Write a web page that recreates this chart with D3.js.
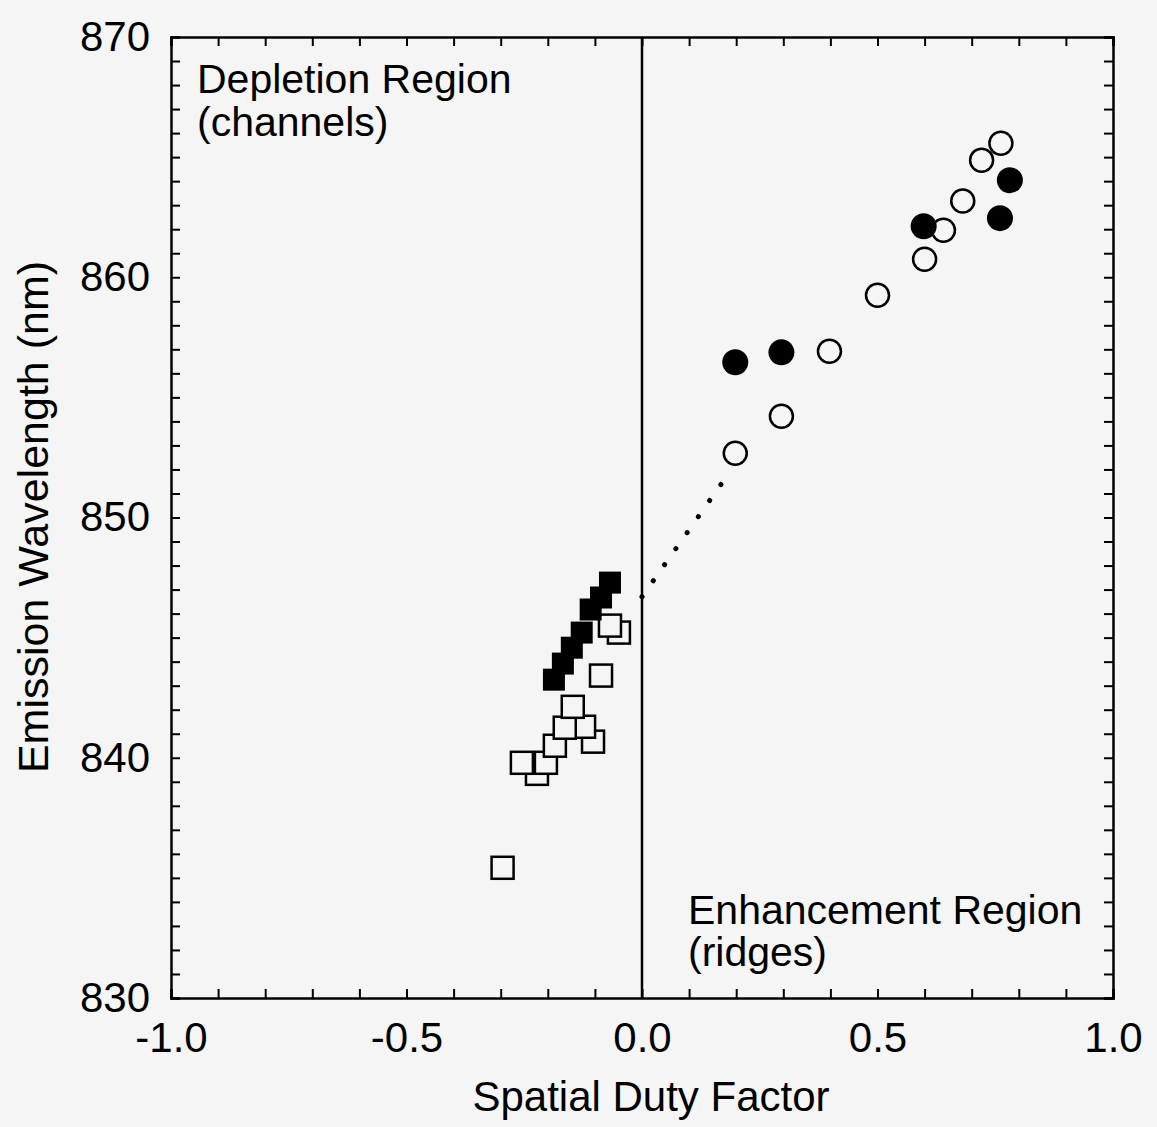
<!DOCTYPE html>
<html>
<head>
<meta charset="utf-8">
<script src="https://cdn.jsdelivr.net/npm/d3@7"></script>
<style>
  body { margin: 0; background: #f5f5f5; }
  svg { font-family: "Liberation Sans", Arial, sans-serif; }
  .axis path { stroke: #000; stroke-width: 2.5; }
  .axis line { stroke: #000; stroke-width: 2; }
  .axis text { font-size: 42px; fill: #000; }
  .note { font-size: 41px; fill: #000; }
</style>
</head>
<body>
<div id="chart"></div>
<script>
// filled squares (depletion region)
const fsqX = [-0.187, -0.168, -0.149, -0.128, -0.109, -0.087, -0.068];
const fsqY = [843.25, 843.92, 844.58, 845.21, 846.17, 846.67, 847.29];

// open squares
const osqX = [-0.296, -0.223, -0.255, -0.204, -0.185, -0.104, -0.123, -0.164, -0.147, -0.087, -0.049, -0.068];
const osqY = [835.42, 839.33, 839.79, 839.79, 840.5, 840.67, 841.29, 841.25, 842.12, 843.42, 845.21, 845.5];

// open circles (enhancement region)
const ocX = [0.198, 0.296, 0.398, 0.5, 0.6, 0.64, 0.681, 0.762, 0.721];
const ocY = [852.67, 854.21, 856.92, 859.25, 860.75, 861.96, 863.17, 865.58, 864.875];

// filled circles
const fcX = [0.198, 0.296, 0.598, 0.76, 0.781];
const fcY = [856.46, 856.875, 862.125, 862.46, 864.04];

// dotted extrapolation line
const dotX = [0.0, 0.19];
const dotY = [846.7, 852.0];

// ticks
const xMajor = [-1.0, -0.5, 0.0, 0.5, 1.0];
const xMinor = d3.range(-10, 11).map(d => d / 10);
const yMajor = [830, 840, 850, 860, 870];
const yMinor = d3.range(830, 871);

const width = 1157, height = 1127;
const margin = {top: 37, right: 44, bottom: 129, left: 171};
const w = width - margin.left - margin.right;
const h = height - margin.top - margin.bottom;

const svg = d3.select("#chart").append("svg")
    .attr("width", width)
    .attr("height", height);

const g = svg.append("g")
    .attr("transform", "translate(" + margin.left + "," + margin.top + ")");

const x = d3.scaleLinear().domain([-1, 1]).range([0, w]);
const y = d3.scaleLinear().domain([830, 870]).range([h, 0]);

// minor ticks on all four sides (inward)
g.append("g").attr("class", "axis")
    .attr("transform", "translate(0," + h + ")")
    .call(d3.axisBottom(x).tickValues(xMinor).tickSize(-9).tickFormat(""));
g.append("g").attr("class", "axis")
    .call(d3.axisTop(x).tickValues(xMinor).tickSize(-9).tickFormat(""));
g.append("g").attr("class", "axis")
    .call(d3.axisLeft(y).tickValues(yMinor).tickSize(-9).tickFormat(""));
g.append("g").attr("class", "axis")
    .attr("transform", "translate(" + w + ",0)")
    .call(d3.axisRight(y).tickValues(yMinor).tickSize(-9).tickFormat(""));

// labelled axes
const xAxis = g.append("g").attr("class", "axis")
    .attr("transform", "translate(0," + h + ")")
    .call(d3.axisBottom(x).tickValues(xMajor).tickSize(0).tickPadding(24));
xAxis.select(".domain").remove();
xAxis.selectAll("text").text(d => d3.format(".1f")(d).replace("−", "-"));

const yAxis = g.append("g").attr("class", "axis")
    .call(d3.axisLeft(y).tickValues(yMajor).tickSize(0).tickPadding(21));
yAxis.select(".domain").remove();

// vertical line at zero
g.append("line")
    .attr("x1", x(0)).attr("x2", x(0))
    .attr("y1", 0).attr("y2", h)
    .attr("stroke", "#000").attr("stroke-width", 2.5);

// dotted extrapolation
g.append("path")
    .datum(d3.zip(dotX, dotY))
    .attr("d", d3.line().x(d => x(d[0])).y(d => y(d[1])))
    .attr("fill", "none")
    .attr("stroke", "#000")
    .attr("stroke-width", 5)
    .attr("stroke-linecap", "round")
    .attr("stroke-dasharray", "0.1,19.5");

const sq = 22;
g.selectAll(".osq").data(d3.zip(osqX, osqY)).enter().append("rect")
    .attr("class", "osq")
    .attr("x", d => x(d[0]) - sq / 2)
    .attr("y", d => y(d[1]) - sq / 2)
    .attr("width", sq).attr("height", sq)
    .attr("fill", "#f5f5f5").attr("stroke", "#000").attr("stroke-width", 2.5);

g.selectAll(".fsq").data(d3.zip(fsqX, fsqY)).enter().append("rect")
    .attr("class", "fsq")
    .attr("x", d => x(d[0]) - sq / 2)
    .attr("y", d => y(d[1]) - sq / 2)
    .attr("width", sq).attr("height", sq)
    .attr("fill", "#000");

g.selectAll(".oc").data(d3.zip(ocX, ocY)).enter().append("circle")
    .attr("class", "oc")
    .attr("cx", d => x(d[0])).attr("cy", d => y(d[1]))
    .attr("r", 11.5)
    .attr("fill", "#f5f5f5").attr("stroke", "#000").attr("stroke-width", 2.5);

g.selectAll(".fc").data(d3.zip(fcX, fcY)).enter().append("circle")
    .attr("class", "fc")
    .attr("cx", d => x(d[0])).attr("cy", d => y(d[1]))
    .attr("r", 13)
    .attr("fill", "#000");

// region notes
g.append("text").attr("class", "note").attr("x", 26).attr("y", 56).text("Depletion Region");
g.append("text").attr("class", "note").attr("x", 26).attr("y", 99).text("(channels)");

g.append("text").attr("class", "note").attr("x", 517).attr("y", 887).text("Enhancement Region");
g.append("text").attr("class", "note").attr("x", 517).attr("y", 929).text("(ridges)");

// axis titles
svg.append("text")
    .attr("x", 651)
    .attr("y", 1111)
    .attr("text-anchor", "middle")
    .style("font-size", "42px")
    .text("Spatial Duty Factor");

svg.append("text")
    .attr("transform", "translate(48," + 517 + ") rotate(-90)")
    .attr("text-anchor", "middle")
    .style("font-size", "43px")
    .text("Emission Wavelength (nm)");
</script>
</body>
</html>
